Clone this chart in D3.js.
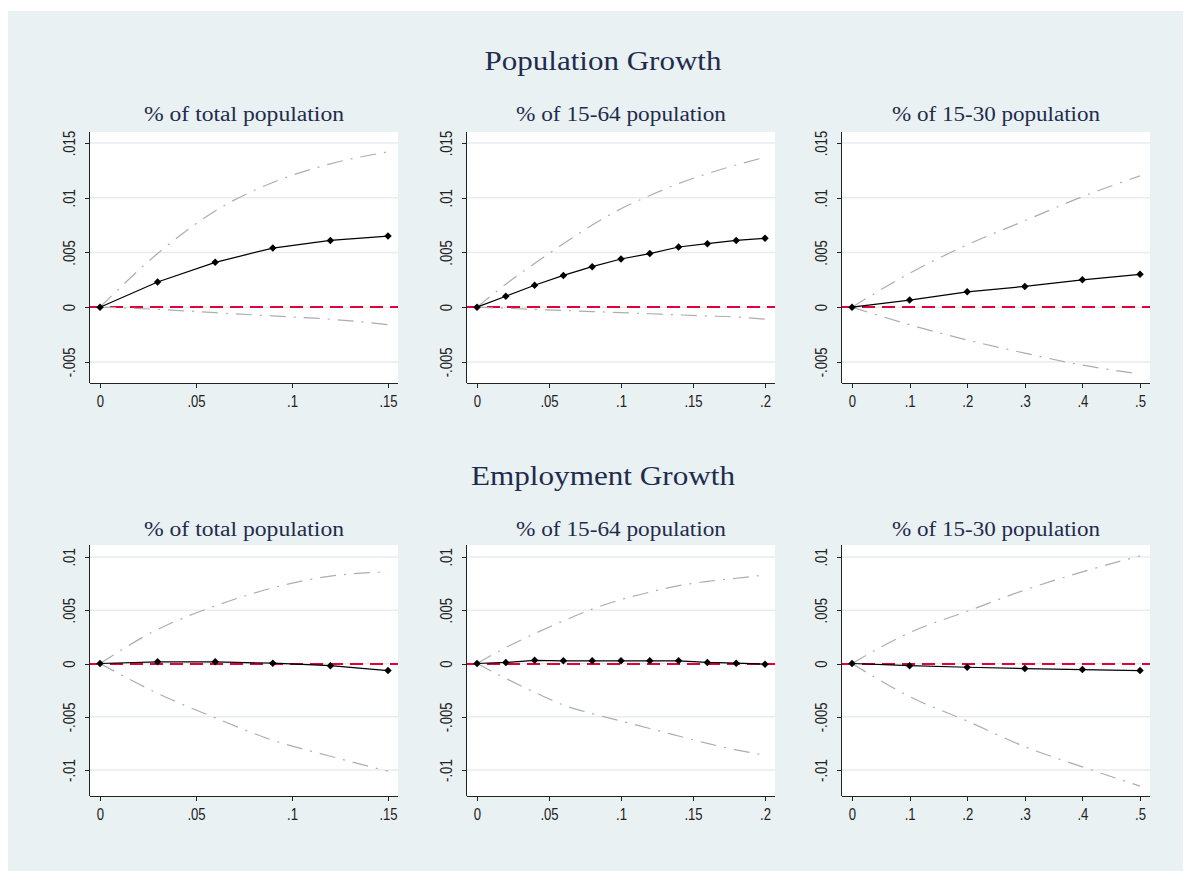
<!DOCTYPE html>
<html>
  <head>
    <title>Population and Employment Growth</title>
    <script src="https://d3js.org/d3.v7.min.js"></script>
    <style>
      body { margin: 0; background: #ffffff; }
      .title { font-family: "Liberation Serif", "DejaVu Serif", serif; fill: #1e2c4e; }
      .tick text { font-family: "Liberation Sans Narrow", "Liberation Sans", Arial, sans-serif; font-size: 16px; fill: #222; }
      .axis path, .axis line { fill: none; stroke: #222; shape-rendering: crispEdges; }
    </style>
  </head>
  <body>
    <svg id="main" width="1185" height="871"></svg>
    <script>
      // row titles and panel subtitles
      var rowTitles = ["Population Growth", "Employment Growth"];
      var panelTitles = ["% of total population", "% of 15-64 population", "% of 15-30 population"];

      // x values for each column
      var xTotal = [0, .03, .06, .09, .12, .15];
      var x1564 = [0, .02, .04, .06, .08, .1, .12, .14, .16, .18, .2];
      var x1530 = [0, .1, .2, .3, .4, .5];

      // tick labels
      var xTicksTotal = [0, .05, .1, .15];
      var xTicks1564 = [0, .05, .1, .15, .2];
      var xTicks1530 = [0, .1, .2, .3, .4, .5];
      var yTicksPop = [-.005, 0, .005, .01, .015];
      var yTicksEmp = [-.01, -.005, 0, .005, .01];

      // population growth: estimate, upper and lower bands
      var popTotEst = [0, .0023, .0041, .0054, .0061, .0065];
      var popTotHi = [0, .0049, .0088, .0114, .0131, .0142];
      var popTotLo = [0, -.0002, -.0005, -.0008, -.0011, -.0016];

      var pop1564Est = [0, .001, .002, .0029, .0037, .0044, .0049, .0055, .0058, .0061, .0063];
      var pop1564Hi = [0, .0021, .0040, .0058, .0075, .0090, .0102, .0113, .0122, .0130, .0137];
      var pop1564Lo = [0, -.0001, -.0002, -.0003, -.0004, -.0005, -.0006, -.0007, -.0008, -.0009, -.0011];

      var pop1530Est = [0, .00065, .0014, .0019, .0025, .003];
      var pop1530Hi = [0, .0031, .0057, .0079, .0101, .0120];
      var pop1530Lo = [0, -.0016, -.0030, -.0042, -.0053, -.0061];

      // employment growth
      var empTotEst = [0, .00016, .00016, .00003, -.0002, -.00066];
      var empTotHi = [0, .0032, .0054, .0071, .0082, .0086];
      var empTotLo = [0, -.0028, -.0051, -.0072, -.0087, -.0101];

      var emp1564Est = [0, .0001, .0003, .00025, .00025, .00025, .00025, .00025, .0001, .00003, -.00006];
      var emp1564Hi = [0, .0015, .0028, .0040, .0051, .0060, .0067, .0073, .0077, .0080, .0083];
      var emp1564Lo = [0, -.0014, -.0027, -.0039, -.0047, -.0054, -.0061, -.0068, -.0075, -.0081, -.0086];

      var emp1530Est = [0, -.0002, -.00035, -.00047, -.00057, -.00066];
      var emp1530Hi = [0, .0029, .0049, .0069, .0086, .0101];
      var emp1530Lo = [0, -.0031, -.0054, -.0078, -.0097, -.0115];

      // layout
      var colLeft = [90, 467, 842];
      var PLOT_W = 308;
      var rowTop = [132, 545];
      var PLOT_H = 251;
      var yDomains = [[-.00693, .01601], [-.01243, .01112]];
      var rowTitleWidth = [237, 264];
      var panelTitleWidth = [200, 210, 208];

      var cols = [
        { x: xTotal, ticks: xTicksTotal },
        { x: x1564, ticks: xTicks1564 },
        { x: x1530, ticks: xTicks1530 }
      ];
      var rows = [
        { yTicks: yTicksPop, series: [[popTotEst, popTotHi, popTotLo], [pop1564Est, pop1564Hi, pop1564Lo], [pop1530Est, pop1530Hi, pop1530Lo]] },
        { yTicks: yTicksEmp, series: [[empTotEst, empTotHi, empTotLo], [emp1564Est, emp1564Hi, emp1564Lo], [emp1530Est, emp1530Hi, emp1530Lo]] }
      ];

      function fmt(v) {
        if (v === 0) return "0";
        return String(v).replace("0.", ".");
      }

      var svg = d3.select("#main");

      svg.append("rect")
        .attr("x", 8).attr("y", 11)
        .attr("width", 1175).attr("height", 860)
        .attr("fill", "#eaf1f3");

      rows.forEach(function(row, r) {
        svg.append("text")
          .attr("class", "title")
          .attr("x", 603).attr("y", 70 + r * 415)
          .attr("text-anchor", "middle")
          .attr("textLength", rowTitleWidth[r])
          .attr("lengthAdjust", "spacingAndGlyphs")
          .style("font-size", "27px")
          .text(rowTitles[r]);

        cols.forEach(function(col, c) {
          var left = colLeft[c], top = rowTop[r];
          var xmax = d3.max(col.x);
          var x = d3.scaleLinear().domain([0, xmax]).range([left + 10, left + PLOT_W - 10]);
          var y = d3.scaleLinear().domain(yDomains[r]).range([top + PLOT_H, top]);
          var s = row.series[c];

          svg.append("text")
            .attr("class", "title")
            .attr("x", left + PLOT_W / 2).attr("y", 121 + r * 415)
            .attr("text-anchor", "middle")
            .attr("textLength", panelTitleWidth[c])
            .attr("lengthAdjust", "spacingAndGlyphs")
            .style("font-size", "20px")
            .text(panelTitles[c]);

          svg.append("rect")
            .attr("x", left).attr("y", top)
            .attr("width", PLOT_W).attr("height", PLOT_H)
            .attr("fill", "#ffffff");

          // gridlines
          svg.append("g").selectAll("line")
            .data(row.yTicks)
            .enter().append("line")
            .attr("x1", left).attr("x2", left + PLOT_W)
            .attr("y1", function(d) { return y(d); })
            .attr("y2", function(d) { return y(d); })
            .attr("stroke", "#e6eef0")
            .attr("stroke-width", 1.5);

          // zero line
          var y0 = Math.round(y(0));
          svg.append("line")
            .attr("x1", left).attr("x2", left + PLOT_W)
            .attr("y1", y0).attr("y2", y0)
            .attr("stroke", "#e0003c")
            .attr("stroke-width", 2)
            .attr("stroke-dasharray", "13,7");

          // bands
          var band = d3.line()
            .x(function(d, i) { return x(col.x[i]); })
            .y(function(d) { return y(d); })
            .curve(d3.curveMonotoneX);

          [s[1], s[2]].forEach(function(b) {
            svg.append("path")
              .attr("d", band(b))
              .attr("fill", "none")
              .attr("stroke", "#adadad")
              .attr("stroke-width", 1.2)
              .attr("stroke-dasharray", "16,8,2,8");
          });

          // estimate
          var est = d3.line()
            .x(function(d, i) { return x(col.x[i]); })
            .y(function(d) { return y(d); });

          svg.append("path")
            .attr("d", est(s[0]))
            .attr("fill", "none")
            .attr("stroke", "#000")
            .attr("stroke-width", 1.2);

          svg.append("g").selectAll("path")
            .data(s[0])
            .enter().append("path")
            .attr("d", d3.symbol(d3.symbolSquare, 28))
            .attr("transform", function(d, i) {
              return "translate(" + x(col.x[i]) + "," + y(d) + ") rotate(45)";
            })
            .attr("fill", "#000");

          // axes
          var xAxis = d3.axisBottom(x)
            .tickValues(col.ticks)
            .tickFormat(fmt)
            .tickSize(5)
            .tickSizeOuter(0);
          var gx = svg.append("g")
            .attr("class", "axis")
            .attr("transform", "translate(0," + (top + PLOT_H) + ")")
            .call(xAxis);
          gx.select(".domain").attr("d", "M" + left + ",0.5H" + (left + PLOT_W));
          gx.selectAll(".tick text")
            .attr("y", 8).attr("dy", "16px")
            .attr("transform", "scale(0.82,1)");

          var yAxis = d3.axisLeft(y)
            .tickValues(row.yTicks)
            .tickFormat(fmt)
            .tickSize(5)
            .tickSizeOuter(0);
          var gy = svg.append("g")
            .attr("class", "axis")
            .attr("transform", "translate(" + left + ",0)")
            .call(yAxis);
          gy.select(".domain").attr("d", "M-0.5," + top + "V" + (top + PLOT_H));
          gy.selectAll(".tick text")
            .attr("x", 0).attr("dy", 0)
            .attr("text-anchor", "middle")
            .attr("transform", "translate(-15,0) rotate(-90) scale(0.82,1)");
        });
      });
    </script>
  </body>
</html>
